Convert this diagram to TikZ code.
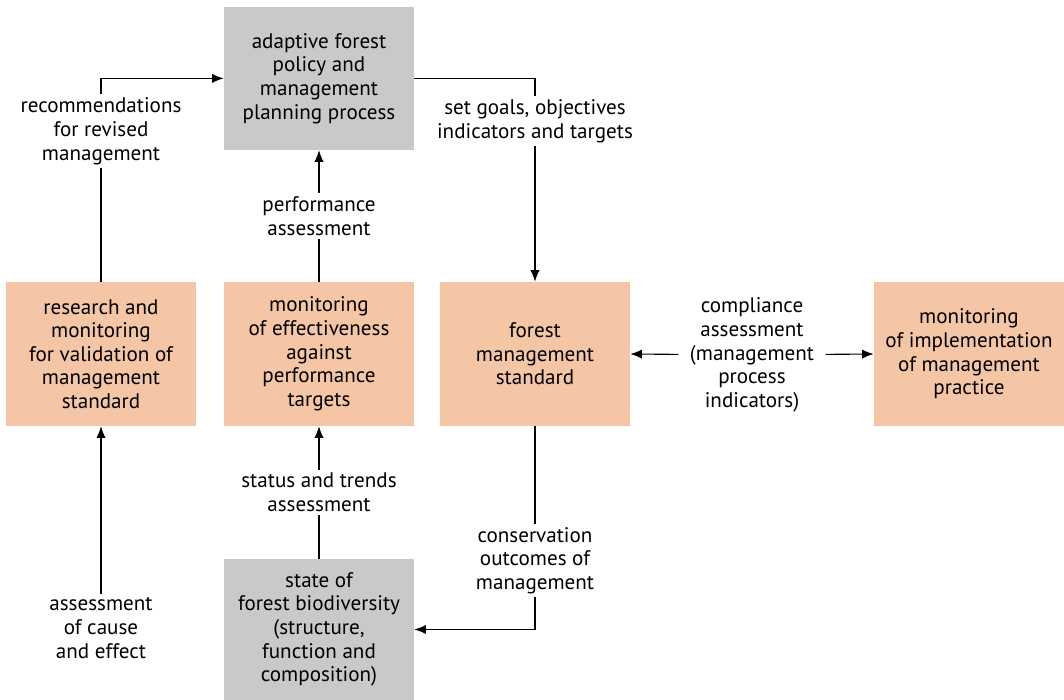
\documentclass[tikz,border=0pt]{standalone}
\usepackage{fontspec}
\setmainfont{PT Sans}
\usepackage{tikz}
\usepackage{xcolor}
\usetikzlibrary{positioning, arrows.meta}
\definecolor{boxorange}{RGB}{245,198,165}
\definecolor{boxgray}{RGB}{200,201,203}
\tikzset{
    block/.style={rectangle, fill=boxorange, minimum width=4.75cm, minimum height=3.6cm, inner sep=0pt, align=center, font=\fontsize{15pt}{16.8pt}\selectfont},
    greyblock/.style={block, fill=boxgray},
    tag/.style={fill=white, align=center, inner sep=2.5pt, font=\fontsize{15pt}{16.8pt}\selectfont},
    flow/.style={-{Latex[length=2.9mm, width=2.3mm]}, line width=0.8pt}
}

\begin{document}
\begin{tikzpicture}[>=Latex]
\useasboundingbox (0,0) rectangle (26.6,17.5);

% Nodes
\node[greyblock, minimum height=3.575cm] (policy) at (7.975,15.54) {adaptive forest\\policy and\\management\\planning process};
\node[block] (research) at (2.525,8.65) {research and\\monitoring\\for validation of\\management\\standard};
\node[block] (effect) at (7.975,8.65) {monitoring\\of effectiveness\\against\\performance\\targets};
\node[block] (standard) at (13.375,8.65) {forest\\management\\standard};
\node[block] (practice) at (24.225,8.65) {monitoring\\of implementation\\of management\\practice};
\node[greyblock, minimum height=3.525cm] (state) at (7.975,1.7625) {state of\\forest biodiversity\\(structure,\\function and\\composition)};

% Free labels
\node[tag, inner xsep=8pt] (compliance) at (18.8,8.625) {compliance\\assessment\\(management\\process\\indicators)};
\node[tag] (cause) at (2.525,1.8) {assessment\\of cause\\and effect};

% Arcs
\draw[flow] (research.north) |- node[tag, pos=0.37] {recommendations\\for revised\\management} (policy.west);
\draw[flow] (effect.north) -- node[tag] {performance\\assessment} (policy.south);
\draw[flow] (policy.east) -| node[tag, pos=0.605] {set goals, objectives\\indicators and targets} (standard.north);

\draw[flow] (compliance) -- (standard.east);
\draw[flow] (compliance) -- (practice.west);

\draw[flow] (state.north) -- node[tag] {status and trends\\assessment} (effect.south);
\draw[flow] (standard.south) |- node[tag, pos=0.33] {conservation\\outcomes of\\management} (state.east);
\draw[flow] (cause) -- (research.south);

\end{tikzpicture}
\end{document}
